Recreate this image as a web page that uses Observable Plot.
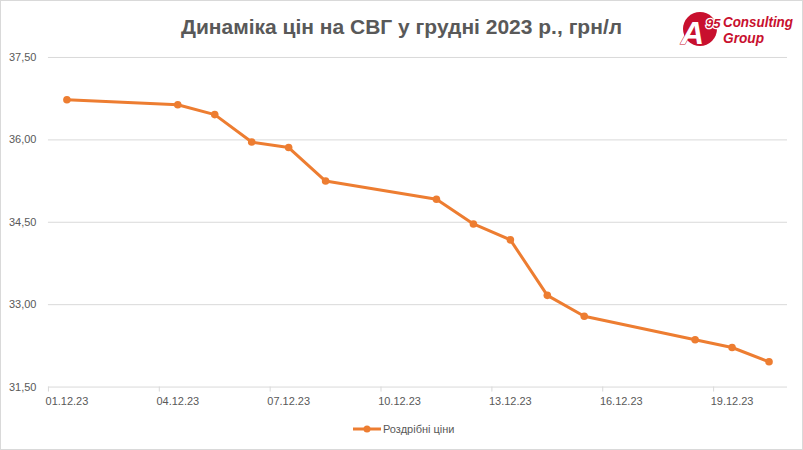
<!DOCTYPE html>
<html><head><meta charset="utf-8">
<script src="https://cdn.jsdelivr.net/npm/d3@7"></script>
<script src="https://cdn.jsdelivr.net/npm/@observablehq/plot@0.6"></script>
<style>
body{margin:0;background:#fff;font-family:"Liberation Sans",Arial,sans-serif;}
#frame{position:relative;width:801px;height:448px;border:1px solid #d9d9d9;overflow:hidden;background:#fff}
#title{position:absolute;left:-1px;top:14px;width:803px;text-align:center;font-weight:bold;font-size:21px;color:#595959;white-space:nowrap}
#logo{position:absolute;left:672px;top:4px;overflow:visible}
#chart{position:absolute;left:-1px;top:39px}
#legend{position:absolute;left:350px;top:422px;display:flex;align-items:center;font-size:11px;color:#595959}
</style></head>
<body>
<div id="frame">
  <div id="title">Динаміка цін на СВГ у грудні 2023 р., грн/л</div>
  <svg id="logo" width="126" height="46" viewBox="0 0 126 46">
    <circle cx="27" cy="24" r="17" fill="#c8102e"/>
    <text x="8" y="39" font-size="32" font-weight="bold" font-style="italic" fill="#fff" stroke="#c8102e" stroke-width="1" paint-order="stroke" font-family="Liberation Sans, Arial">A</text>
    <text x="33" y="23" font-size="13" font-weight="bold" font-style="italic" fill="#c8102e" stroke="#fff" stroke-width="2.5" paint-order="stroke" font-family="Liberation Sans, Arial">95</text>
    <text x="50" y="22" font-size="15" font-weight="bold" font-style="italic" fill="#c8102e" textLength="70" lengthAdjust="spacingAndGlyphs" font-family="Liberation Sans, Arial">Consulting</text>
    <text x="50" y="38" font-size="15" font-weight="bold" font-style="italic" fill="#c8102e" textLength="41" lengthAdjust="spacingAndGlyphs" font-family="Liberation Sans, Arial">Group</text>
  </svg>
  <div id="chart"></div>
  <div id="legend">
    <svg width="32" height="10"><line x1="2" y1="5" x2="30" y2="5" stroke="#ed7d31" stroke-width="3"/><circle cx="16" cy="5" r="3.5" fill="#ed7d31"/></svg>
    <span>Роздрібні ціни</span>
  </div>
</div>
<script>
const dates = ["01.12.23","04.12.23","05.12.23","06.12.23","07.12.23","08.12.23","11.12.23","12.12.23","13.12.23","14.12.23","15.12.23","18.12.23","19.12.23","20.12.23"];
const prices = [36.73,36.64,36.46,35.96,35.86,35.25,34.92,34.47,34.18,33.17,32.79,32.36,32.22,31.96];
const xTickLabels = ["01.12.23","04.12.23","07.12.23","10.12.23","13.12.23","16.12.23","19.12.23"];
const yTicks = [31.5,33,34.5,36,37.5];
const seriesName = "Роздрібні ціни";

const dayOf = s => +s.slice(0,2);
const data = dates.map((d,i)=>({day: dayOf(d)+0.5, price: prices[i], series: seriesName}));
const tickDays = xTickLabels.map(dayOf);

const chart = Plot.plot({
  width: 803, height: 376,
  marginLeft: 48, marginRight: 15, marginTop: 17, marginBottom: 29,
  style: {fontFamily: "Liberation Sans, Arial, sans-serif", fontSize: "11px", color: "#595959", background: "transparent"},
  x: {domain: [1, 21], axis: null},
  y: {domain: [31.5, 37.5], axis: null},
  marks: [
    Plot.ruleY(yTicks, {stroke: "#d9d9d9", strokeWidth: 1}),
    Plot.axisX({ticks: tickDays, tickSize: 5, tickFormat: () => "", label: null, stroke: "#d9d9d9", strokeOpacity: 1, y: 31.5}),
    Plot.text(xTickLabels, {x: d => dayOf(d) + 0.5, y: 31.5, dy: 14, text: d => d, fill: "#595959", fontSize: 11}),
    Plot.axisY({ticks: yTicks, tickSize: 0, tickPadding: 12, label: null, tickFormat: d => d.toFixed(2).replace(".", ","), fill: "#595959", fontSize: 11}),
    Plot.line(data, {x: "day", y: "price", stroke: "#ed7d31", strokeWidth: 3, strokeLinejoin: "round"}),
    Plot.dot(data, {x: "day", y: "price", r: 3.8, fill: "#ed7d31"})
  ]
});
document.getElementById("chart").appendChild(chart);
</script>
</body></html>
